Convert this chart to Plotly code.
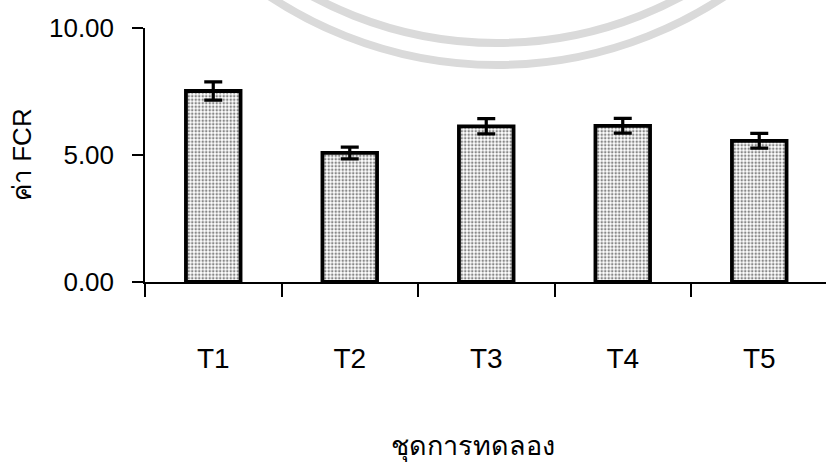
import plotly.graph_objects as go

# Feed conversion ratio per treatment, with standard error
treatments = ["T1", "T2", "T3", "T4", "T5"]
fcr_mean = [7.52, 5.08, 6.13, 6.15, 5.56]
fcr_err = [0.36, 0.23, 0.30, 0.29, 0.29]

y_ticks = [0, 5, 10]
y_tick_text = ["0.00", "5.00", "10.00"]

W, H = 826, 463
L, R, T, B = 145, 0, 28, 181
cat_px = 136.5  # width of one category slot in pixels

fig = go.Figure()

fig.add_trace(go.Bar(
    x=treatments,
    y=fcr_mean,
    width=0.4,
    marker=dict(
        color="white",
        line=dict(color="black", width=3.8),
        pattern=dict(shape=".", fgcolor="#111111", bgcolor="white",
                     size=3.5, solidity=0.42, fillmode="overlay"),
    ),
    error_y=dict(type="data", array=fcr_err, visible=True,
                 color="black", thickness=3.2, width=9),
    showlegend=False,
))

# faint circular seal in the page background
def arc_circle(cx, cy, r, width):
    return dict(type="circle", xref="paper", yref="paper", layer="below",
                x0=(cx - r - L) / (W - L - R), x1=(cx + r - L) / (W - L - R),
                y0=(H - B - (cy + r)) / (H - T - B), y1=(H - B - (cy - r)) / (H - T - B),
                line=dict(color="#dadada", width=width))

shapes = [arc_circle(497, -346, 411, 8), arc_circle(497, -346, 389, 8)]

fig.update_layout(
    width=W, height=H,
    margin=dict(l=L, r=R, t=T, b=B, pad=0),
    plot_bgcolor="white",
    paper_bgcolor="white",
    font=dict(family="Liberation Sans, Arial, sans-serif", color="black"),
    shapes=shapes,
    xaxis=dict(
        range=[-0.5, -0.5 + (W - L - R) / cat_px],
        showline=True, linecolor="black", linewidth=2,
        ticks="outside", ticklen=13, tickwidth=1.5, tickcolor="black",
        tickson="boundaries",
        ticklabelstandoff=50,
        tickfont=dict(size=28),
        showgrid=False, zeroline=False,
    ),
    yaxis=dict(
        range=[0, 10],
        tickvals=y_ticks, ticktext=y_tick_text,
        showline=True, linecolor="black", linewidth=1.5,
        ticks="outside", ticklen=11, tickwidth=1.5, tickcolor="black",
        ticklabelstandoff=13,
        tickfont=dict(size=26),
        showgrid=False, zeroline=False,
    ),
    annotations=[
        dict(text="ค่า FCR", xref="paper", yref="paper", x=-0.0, xshift=-123,
             y=0.5, textangle=-90, showarrow=False, xanchor="center", yanchor="middle",
             font=dict(size=26)),
        dict(text="ชุดการทดลอง", xref="paper", yref="paper", x=(473 - L) / (W - L - R),
             y=0, yshift=-165, showarrow=False, xanchor="center", yanchor="middle",
             font=dict(size=27)),
    ],
)

fig.write_html("out.html")
